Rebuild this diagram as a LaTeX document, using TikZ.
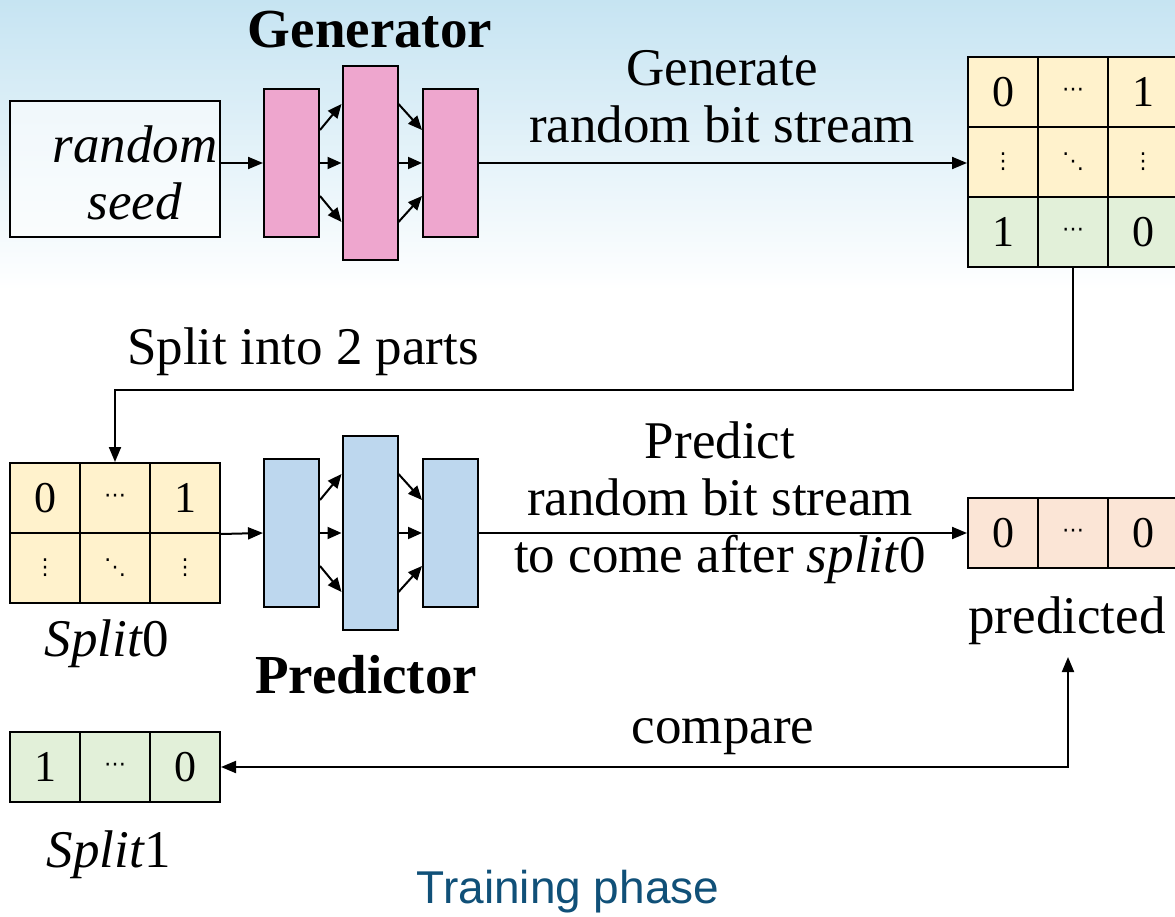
\documentclass[tikz,border=0pt]{standalone}
\usepackage{fontspec}
\setmainfont{Liberation Serif}
\newfontfamily\symfont{DejaVu Sans}
\newfontfamily\capfont{Liberation Sans}
\usetikzlibrary{arrows.meta,calc}

\definecolor{skyblue}{RGB}{198,228,242}
\definecolor{genpink}{HTML}{EEA6CE}
\definecolor{predblue}{HTML}{BDD7EE}
\definecolor{cellyellow}{HTML}{FFF2CC}
\definecolor{cellgreen}{HTML}{E2F0D9}
\definecolor{cellorange}{HTML}{FBE5D6}
\definecolor{phaseblue}{RGB}{16,80,120}

\tikzset{
  every node/.style={font=\fontsize{53}{57}\selectfont},
  cell/.style={draw, line width=2pt, minimum width=70pt, minimum height=70pt,
    inner sep=0pt, font=\fontsize{44}{44}\selectfont},
  dotcell/.style={cell, font=\symfont\fontsize{22}{22}\selectfont},
  layer/.style={draw, line width=2pt, inner sep=0pt, minimum width=55pt},
  arr/.style={line width=2pt, -{Triangle[length=15pt,width=12pt]}},
  larr/.style={line width=2pt, -{Triangle[length=14pt,width=12pt]}},
  dblarr/.style={line width=2pt, {Triangle[length=15pt,width=12pt]}-{Triangle[length=15pt,width=12pt]}},
  boldlbl/.style={font=\bfseries\fontsize{55}{57}\selectfont},
}

% three links between two consecutive layers
\newcommand\layerlinks[4]{%
  \draw[larr] ($(#1.east)+(0,-#3)$) -- ($(#2.west)+(0,-#4)$);
  \draw[larr] (#1.east) -- (#2.west);
  \draw[larr] ($(#1.east)+(0,#3)$) -- ($(#2.west)+(0,#4)$);
}

\begin{document}
\begin{tikzpicture}[x=1pt,y=-1pt]
\useasboundingbox (0,0) rectangle (1175,917);
\fill[white] (0,0) rectangle (1175,917);
\fill[top color=skyblue, middle color=skyblue!55, bottom color=white] (0,0) rectangle (1175,290);

% ---- generator ----
\node[draw, line width=2pt, fill=white, fill opacity=0.6, minimum width=210pt,
  minimum height=136pt, inner sep=0pt] (seed) at (115,169) {};
\node[align=center] (seedtxt) at (135,173) {\textit{random}\\\textit{seed}};

\node[layer, fill=genpink, minimum height=148pt] (g1) at (291.5,163) {};
\node[layer, fill=genpink, minimum height=194pt] (g2) at (370,163) {};
\node[layer, fill=genpink, minimum height=148pt] (g3) at (450.5,163) {};
\node[boldlbl] (genlbl) at (370,30) {Generator};

\draw[arr] (seed.east |- g1.west) -- (g1.west);
\layerlinks{g1}{g2}{33}{59}
\layerlinks{g2}{g3}{59}{33}

% ---- generated stream ----
\node[cell, fill=cellyellow] (m11) at (1003,92) {0};
\node[dotcell, fill=cellyellow] (m12) at (1073,92) {⋯};
\node[cell, fill=cellyellow] (m13) at (1143,92) {1};
\node[dotcell, fill=cellyellow] (m21) at (1003,162) {⋮};
\node[dotcell, fill=cellyellow] (m22) at (1073,162) {⋱};
\node[dotcell, fill=cellyellow] (m23) at (1143,162) {⋮};
\node[cell, fill=cellgreen] (m31) at (1003,232) {1};
\node[dotcell, fill=cellgreen] (m32) at (1073,232) {⋯};
\node[cell, fill=cellgreen] (m33) at (1143,232) {0};

\draw[arr] (g3.east) -- (g3.east -| m21.west);
\node[align=center] (genmsg) at (722,97) {Generate\\random bit stream};

% ---- split ----
\node[cell, fill=cellyellow] (s11) at (45,498) {0};
\node[dotcell, fill=cellyellow] (s12) at (115,498) {⋯};
\node[cell, fill=cellyellow] (s13) at (185,498) {1};
\node[dotcell, fill=cellyellow] (s21) at (45,568) {⋮};
\node[dotcell, fill=cellyellow] (s22) at (115,568) {⋱};
\node[dotcell, fill=cellyellow] (s23) at (185,568) {⋮};
\node (split0) at (107,644) {\textit{Split}0};

\draw[arr] (m32.south) -- ++(0,122) -| (s12.north);
\node (splitmsg) at (303,352) {Split into 2 parts};

% ---- predictor ----
\node[layer, fill=predblue, minimum height=148pt] (p1) at (291.5,533) {};
\node[layer, fill=predblue, minimum height=194pt] (p2) at (370,533) {};
\node[layer, fill=predblue, minimum height=148pt] (p3) at (450.5,533) {};
\node[boldlbl] (predlblb) at (366,675) {Predictor};

\draw[arr] (s13.south east) -- (p1.west);
\layerlinks{p1}{p2}{33}{59}
\layerlinks{p2}{p3}{59}{33}

\node[cell, fill=cellorange] (r1) at (1003,533) {0};
\node[dotcell, fill=cellorange] (r2) at (1073,533) {⋯};
\node[cell, fill=cellorange] (r3) at (1143,533) {0};
\node (predicted) at (1067,621) {predicted};

\draw[arr] (p3.east) -- (r1.west);
\node[align=center] (predmsg) at (720,503) {Predict\\random bit stream\\to come after \textit{split}0};

% ---- comparison ----
\node[cell, fill=cellgreen] (t1) at (45,767) {1};
\node[dotcell, fill=cellgreen] (t2) at (115,767) {⋯};
\node[cell, fill=cellgreen] (t3) at (185,767) {0};
\node (split1) at (109,855) {\textit{Split}1};

\coordinate (cmptop) at (1068,657);
\draw[dblarr] (cmptop) |- (t3.east);
\node (cmpmsg) at (723,737) {compare};

\node[font=\capfont\fontsize{46}{46}\selectfont, text=phaseblue] (phase) at (568,892) {Training phase};
\end{tikzpicture}
\end{document}
